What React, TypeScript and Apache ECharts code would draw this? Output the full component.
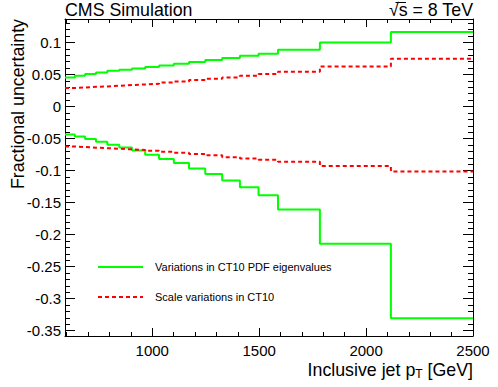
import React, { useEffect, useRef } from "react";
import * as echarts from "echarts";

const binEdges = [592, 638, 686, 737, 790, 846, 905, 967, 1032, 1101, 1172, 1248, 1327, 1410, 1497, 1588, 1784, 2116, 2500];
const pdfUp = [0.0455, 0.0481, 0.0507, 0.0533, 0.0559, 0.0574, 0.0595, 0.0616, 0.0642, 0.0668, 0.0694, 0.0725, 0.0757, 0.0793, 0.0826, 0.0887, 0.1, 0.1163];
const pdfDown = [-0.0435, -0.0466, -0.0508, -0.055, -0.0596, -0.0638, -0.0685, -0.0752, -0.082, -0.0882, -0.0966, -0.1054, -0.1153, -0.126, -0.1387, -0.1606, -0.2141, -0.3307];
const scaleUp = [0.0289, 0.0298, 0.0309, 0.0314, 0.0325, 0.0335, 0.0345, 0.0356, 0.0376, 0.0392, 0.0413, 0.0434, 0.0455, 0.048, 0.0507, 0.0543, 0.0626, 0.0746];
const scaleDown = [-0.0622, -0.0632, -0.0642, -0.065, -0.066, -0.0668, -0.0678, -0.069, -0.0705, -0.072, -0.074, -0.0762, -0.079, -0.081, -0.083, -0.0862, -0.093, -0.1013];

const xMajorTicks = [1000, 1500, 2000, 2500];
const yMajorTicks = [0.1, 0.05, 0, -0.05, -0.1, -0.15, -0.2, -0.25, -0.3, -0.35];
const pdfName = "Variations in CT10 PDF eigenvalues";
const scaleName = "Scale variations in CT10";

const X_MIN = 592;
const X_MAX = 2500;
const Y_MIN = -0.3583;
const Y_MAX = 0.1367;
const FONT = "'Liberation Sans', Arial, Helvetica, sans-serif";

function stepData(vals: number[]) {
  return binEdges.map((e, i) => [e, vals[Math.min(i, vals.length - 1)]]);
}

export default function App() {
  const ref = useRef<HTMLDivElement>(null);
  useEffect(() => {
    if (!ref.current) return;
    const chart = echarts.init(ref.current, undefined, { renderer: "svg" });
    const xMinor: number[] = [];
    for (let v = 600; v < 2500; v += 100) if (v % 500 !== 0) xMinor.push(v);
    const yMinor: number[] = [];
    for (let k = -35; k <= 13; k++) if (k % 5 !== 0) yMinor.push(k / 100);

    const mkX = (pos: string, ticks: number[], len: number, labels: boolean, line: boolean) => ({
      type: "value",
      position: pos,
      min: X_MIN,
      max: X_MAX,
      axisLine: { show: line, onZero: false, lineStyle: { color: "#000", width: 1 } },
      axisTick: { show: true, inside: true, length: len, customValues: ticks, lineStyle: { color: "#000", width: 1 } },
      axisLabel: labels
        ? {
            show: true,
            customValues: ticks,
            margin: 7,
            fontSize: 15,
            lineHeight: 15,
            color: "#000",
            fontFamily: FONT,
            formatter: (v: number) => String(v),
          }
        : { show: false },
      splitLine: { show: false },
    });
    const mkY = (pos: string, ticks: number[], len: number, labels: boolean, line: boolean) => ({
      type: "value",
      position: pos,
      min: Y_MIN,
      max: Y_MAX,
      axisLine: { show: line, onZero: false, lineStyle: { color: "#000", width: 1 } },
      axisTick: { show: true, inside: true, length: len, customValues: ticks, lineStyle: { color: "#000", width: 1 } },
      axisLabel: labels
        ? {
            show: true,
            customValues: ticks,
            margin: 4,
            fontSize: 15,
            color: "#000",
            fontFamily: FONT,
            formatter: (v: number) => String(Math.round(v * 100) / 100),
          }
        : { show: false },
      splitLine: { show: false },
    });

    const green = { color: "#00ff00", width: 2, type: "solid" };
    const red = { color: "#ff0000", width: 2, type: [4, 3] };

    chart.setOption({
      animation: false,
      backgroundColor: "#fff",
      grid: { left: 65, top: 19, width: 408, height: 317, containLabel: false },
      xAxis: [
        mkX("bottom", xMajorTicks, 8, true, true),
        mkX("bottom", xMinor, 4, false, false),
        mkX("top", xMajorTicks, 8, false, true),
        mkX("top", xMinor, 4, false, false),
      ],
      yAxis: [
        mkY("left", yMajorTicks, 10, true, true),
        mkY("left", yMinor, 5, false, false),
        mkY("right", yMajorTicks, 10, false, true),
        mkY("right", yMinor, 5, false, false),
      ],
      series: [
        { name: pdfName, type: "line", step: "end", symbol: "none", data: stepData(pdfUp), lineStyle: green, itemStyle: { color: "#00ff00" } },
        { name: pdfName, type: "line", step: "end", symbol: "none", data: stepData(pdfDown), lineStyle: green, itemStyle: { color: "#00ff00" } },
        { name: scaleName, type: "line", step: "end", symbol: "none", data: stepData(scaleUp), lineStyle: red, itemStyle: { color: "#ff0000" } },
        { name: scaleName, type: "line", step: "end", symbol: "none", data: stepData(scaleDown), lineStyle: red, itemStyle: { color: "#ff0000" } },
      ],
      graphic: [
        {
          type: "text",
          x: 65,
          y: 1,
          style: { text: "CMS Simulation", font: `17.8px ${FONT}`, fill: "#000", verticalAlign: "top" },
        },
        {
          type: "text",
          x: 473,
          y: 1,
          style: { text: "√s = 8 TeV", font: `17.8px ${FONT}`, fill: "#000", align: "right", verticalAlign: "top" },
        },
        {
          type: "line",
          shape: { x1: 395.5, y1: 2.5, x2: 406, y2: 2.5 },
          style: { stroke: "#000", lineWidth: 1 },
        },
        {
          type: "text",
          x: 473,
          y: 360,
          style: {
            text: "Inclusive jet p{sub|T} [GeV]",
            font: `17.8px ${FONT}`,
            fill: "#000",
            align: "right",
            verticalAlign: "top",
            rich: { sub: { fontSize: 12, fontFamily: FONT, verticalAlign: "bottom", padding: [8, 0, 0, 0] } },
          },
        },
        {
          type: "text",
          x: 17.5,
          y: 19,
          rotation: Math.PI / 2,
          style: { text: "Fractional uncertainty", font: `17.8px ${FONT}`, fill: "#000", align: "right", verticalAlign: "middle" },
        },
        {
          type: "line",
          shape: { x1: 98, y1: 267, x2: 143, y2: 267 },
          style: { stroke: "#00ff00", lineWidth: 2 },
        },
        {
          type: "text",
          x: 155,
          y: 267,
          style: { text: pdfName, font: `11px ${FONT}`, fill: "#000", verticalAlign: "middle" },
        },
        {
          type: "line",
          shape: { x1: 98, y1: 297, x2: 143, y2: 297 },
          style: { stroke: "#ff0000", lineWidth: 2, lineDash: [4, 3] },
        },
        {
          type: "text",
          x: 155,
          y: 297,
          style: { text: scaleName, font: `11px ${FONT}`, fill: "#000", verticalAlign: "middle" },
        },
      ],
    });
    return () => chart.dispose();
  }, []);
  return <div ref={ref} style={{ position: "fixed", left: 0, top: 0, width: 498, height: 387 }} />;
}
